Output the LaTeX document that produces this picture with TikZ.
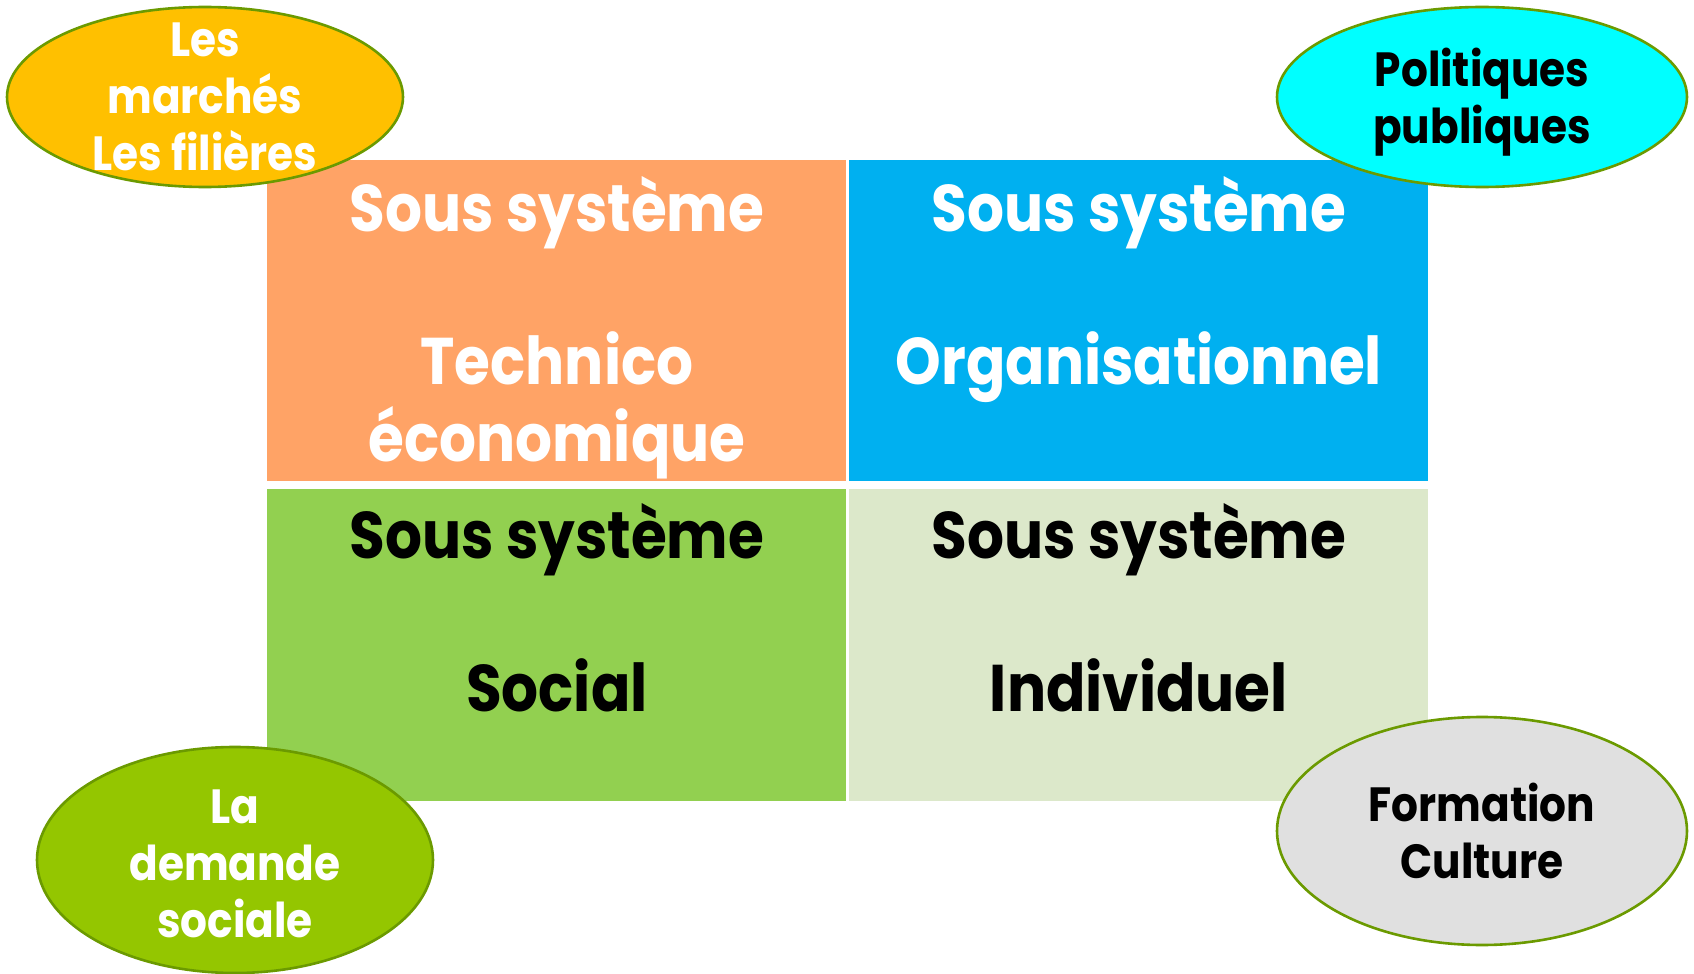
\documentclass[tikz,border=0pt]{standalone}
\usepackage{fontspec}
\setmainfont{Poppins}[FakeStretch=0.88]
\usetikzlibrary{shapes.geometric}

\definecolor{techorange}{HTML}{FFA366}
\definecolor{orgablue}{HTML}{00B0F0}
\definecolor{socgreen}{HTML}{92D050}
\definecolor{indivgreen}{HTML}{DCE8CA}
\definecolor{ovalyellow}{HTML}{FFC000}
\definecolor{ovalcyan}{HTML}{00FFFF}
\definecolor{ovalgreen}{HTML}{94C600}
\definecolor{ovalgray}{HTML}{E0E0E0}
\definecolor{ovalline}{HTML}{6B9A00}

\tikzset{
    cell/.style={rectangle, anchor=north west, inner sep=0pt, minimum width=289.5pt},
    celltext/.style={anchor=base, align=center, inner sep=0pt, font=\bfseries\fontsize{33}{38.5}\selectfont},
    oval/.style={ellipse, draw=ovalline, line width=1.3pt, inner sep=0pt, minimum width=200pt, minimum height=90pt},
    ovaltext/.style={align=center, inner sep=0pt, font=\bfseries\fontsize{24}{28.5}\selectfont}
}

\begin{document}
\begin{tikzpicture}[x=0.5pt, y=-0.5pt]

            \useasboundingbox (0,0) rectangle (1694,974);

            % Cells

            \node[cell, fill=techorange, minimum height=160.5pt] (tech) at (267,160) {};
            \node[cell, fill=orgablue, minimum height=160.5pt] (orga) at (849,160) {};
            \node[cell, fill=socgreen, minimum height=156pt] (soc) at (267,489) {};
            \node[cell, fill=indivgreen, minimum height=156pt] (indiv) at (849,489) {};

            % Cell texts

            \node[celltext, white] (techhead) at ([yshift=-36pt]tech.north) {Sous système};
            \node[celltext, white] (techname) at ([yshift=-150.5pt]tech.north) {Technico\\économique};
            \node[celltext, white] (orgahead) at ([yshift=-36pt]orga.north) {Sous système};
            \node[celltext, white] (organame) at ([yshift=-112pt]orga.north) {Organisationnel};
            \node[celltext, black] (sochead) at ([yshift=-34.5pt]soc.north) {Sous système};
            \node[celltext, black] (socname) at ([yshift=-111pt]soc.north) {Social};
            \node[celltext, black] (indivhead) at ([yshift=-34.5pt]indiv.north) {Sous système};
            \node[celltext, black] (indivname) at ([yshift=-111pt]indiv.north) {Individuel};

            % Ovals

            \node[oval, fill=ovalyellow, minimum width=198pt, minimum height=90pt] (marche) at (205,97) {};
            \node[oval, fill=ovalcyan, minimum width=205pt, minimum height=90pt] (politique) at (1482,97) {};
            \node[oval, fill=ovalgreen, minimum width=198pt, minimum height=113pt] (demande) at (235,860) {};
            \node[oval, fill=ovalgray, minimum width=205pt, minimum height=114pt] (formation) at (1482,831) {};

            % Oval texts

            \node[ovaltext, white] (marchetext) at (marche) {Les\\marchés\\Les filières};
            \node[ovaltext, black, yshift=-2.5pt] (politiquetext) at (politique) {Politiques\\publiques};
            \node[ovaltext, white, yshift=-2pt] (demandetext) at (demande) {La\\demande\\sociale};
            \node[ovaltext, black] (formationtext) at (formation) {Formation\\Culture};

\end{tikzpicture}
\end{document}
